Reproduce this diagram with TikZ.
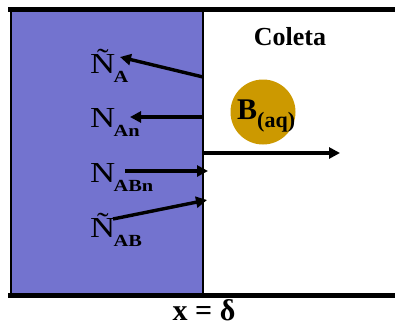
\documentclass[tikz,border=0pt]{standalone}
\usepackage{fontspec}
\setmainfont{Liberation Serif}
\usetikzlibrary{arrows.meta}
\definecolor{wallpurple}{HTML}{7373CF}
\definecolor{gold}{HTML}{CC9900}
\tikzset{
  flux/.style={line width=3.4pt,-{Triangle[length=11pt,width=11pt]}},
  rail/.style={line width=5pt},
  nlabel/.style={anchor=base west,inner sep=0pt,xscale=1.2,transform shape},
}
\newcommand{\Nlab}[2]{{\fontsize{29}{29}\selectfont #1}\kern-1.5pt\raisebox{-9pt}{\fontsize{17}{17}\selectfont\bfseries #2}}
\begin{document}
\begin{tikzpicture}[x=1pt,y=-1pt]
\useasboundingbox (0,0) rectangle (395,327);
% membrane slab
\fill[wallpurple] (10,9) rectangle (203,295);
\draw[line width=2pt] (10.5,9) -- (10.5,295);
\draw[line width=1.8pt] (203,9) -- (203,295);
% rails
\draw[rail] (8,9.5) -- (395,9.5);
\draw[rail] (8,295.5) -- (395,295.5);
% labels
\node[nlabel] (na) at (90,73) {\Nlab{Ñ}{A}};
\node[nlabel] (nan) at (90,127) {\Nlab{N}{An}};
\node[nlabel] (nabn) at (90,182) {\Nlab{N}{ABn}};
\node[nlabel] (nab) at (90,237) {\Nlab{Ñ}{AB}};
\node[anchor=base,inner sep=0pt] (coleta) at (290,45) {\fontsize{26}{26}\selectfont\bfseries Coleta};
\node[circle,fill=gold,minimum size=65pt,inner sep=0pt] (bcirc) at (263,112) {};
\node[anchor=base west,inner sep=0pt] (blab) at (237,119) {\bfseries\fontsize{30}{30}\selectfont B\raisebox{-8pt}{\fontsize{22}{22}\selectfont (aq)}};
\node[anchor=base,inner sep=0pt] (xd) at (204,320) {\bfseries\fontsize{30}{30}\selectfont x = δ};
% connector end points
\coordinate (w1) at (203,77);
\coordinate (t1) at (120,57);
\coordinate (w2) at (203,117);
\coordinate (t2) at (130,117);
\coordinate (s3) at (125,171);
\coordinate (w3) at (208,171);
\coordinate (s4) at (113,219);
\coordinate (w4) at (207,200);
\coordinate (w5) at (203,153);
\coordinate (t5) at (340,153);
% fluxes
\draw[flux] (w1) -- (t1);
\draw[flux] (w2) -- (t2);
\draw[flux] (s3) -- (w3);
\draw[flux] (s4) -- (w4);
\draw[flux] (w5) -- (t5);
\end{tikzpicture}
\end{document}
